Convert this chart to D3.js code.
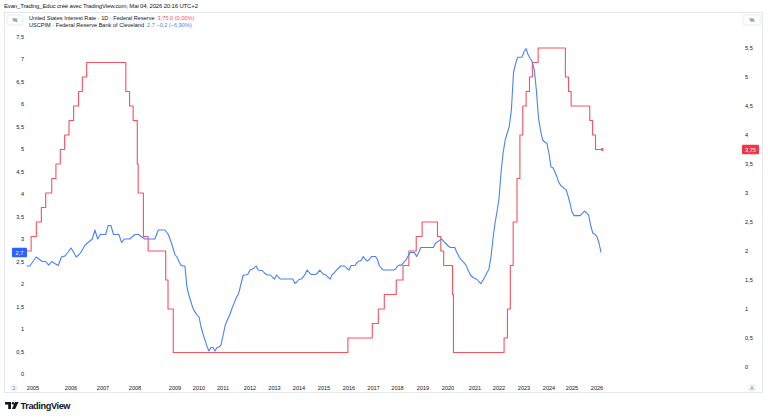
<!DOCTYPE html>
<html>
<head>
<meta charset="utf-8">
<script src="https://cdn.jsdelivr.net/npm/d3@7"></script>
<style>
  html, body { margin: 0; padding: 0; background: #fff; }
  svg { display: block; font-family: "Liberation Sans", Arial, sans-serif; }
</style>
</head>
<body>
<svg id="chart" width="768" height="419"></svg>
<script>
// ---- data ----
const years = d3.range(2005, 2027); // x tick labels

// USCPIM (median CPI, % y/y), monthly from Nov 2004
const cpiStart = "2004-11";
const cpiValues = [
  2.4, 2.4,
  2.5, 2.6, 2.55, 2.5, 2.5, 2.42, 2.5, 2.45, 2.41, 2.6, 2.62, 2.7,
  2.8, 2.7, 2.6, 2.65, 2.72, 2.84, 2.9, 2.95, 3.0, 3.2, 3.0, 3.1,
  3.1, 3.1, 3.3, 3.3, 3.1, 3.1, 3.1, 2.92, 3.0, 3.0, 3.0, 3.05,
  3.1, 3.1, 3.05, 3.0, 3.0, 3.0, 3.0, 3.2, 3.2, 3.2, 3.1, 2.9,
  2.65, 2.6, 2.5, 2.42, 2.4, 2.4, 1.94, 1.75, 1.6, 1.46, 1.38, 1.31,
  1.27, 1.05, 0.9, 0.76, 0.62, 0.51, 0.59, 0.59, 0.51, 0.59, 0.6, 0.64,
  0.85, 1.09, 1.2, 1.31, 1.45, 1.58, 1.7, 1.79, 2.0, 2.2, 2.2, 2.21,
  2.31, 2.33, 2.35, 2.4, 2.31, 2.3, 2.3, 2.25, 2.21, 2.2, 2.2, 2.15,
  2.11, 2.2, 2.15, 2.11, 2.11, 2.11, 2.11, 2.11, 2.11, 2.11, 2.01, 2.05,
  2.1, 2.11, 2.15, 2.22, 2.31, 2.25, 2.21, 2.21, 2.21, 2.25, 2.31, 2.25,
  2.21, 2.2, 2.15, 2.11, 2.21, 2.25, 2.31, 2.35, 2.4, 2.4, 2.4, 2.35,
  2.31, 2.41, 2.41, 2.41, 2.48, 2.51, 2.52, 2.61, 2.55, 2.51, 2.55, 2.61,
  2.61, 2.61, 2.55, 2.4, 2.35, 2.31, 2.31, 2.31, 2.31, 2.31, 2.31, 2.33,
  2.4, 2.42, 2.42, 2.48, 2.53, 2.62, 2.7, 2.7, 2.7, 2.61, 2.7, 2.81,
  2.81, 2.81, 2.81, 2.81, 2.81, 2.81, 2.9, 2.94, 2.97, 3.0, 2.94, 2.9,
  2.85, 2.81, 2.81, 2.81, 2.7, 2.6, 2.53, 2.48, 2.42, 2.3, 2.2, 2.15,
  2.12, 2.1, 2.05, 2.01, 2.08, 2.16, 2.25, 2.33, 2.6, 3.0, 3.35, 3.6,
  3.9, 4.5, 4.9, 5.2, 5.35, 5.51, 5.87, 6.7, 6.9, 7.04, 7.04, 7.04,
  7.16, 7.23, 7.1, 7.01, 6.94, 6.76, 6.3, 5.68, 5.4, 5.2, 5.15, 5.13,
  4.9, 4.6, 4.59, 4.5, 4.4, 4.27, 4.2, 4.16, 4.12, 4.09, 3.95, 3.79,
  3.6, 3.52, 3.52, 3.52, 3.52, 3.57, 3.62, 3.58, 3.53, 3.3, 3.13, 3.11,
  3.05, 2.9, 2.7
];

// United States interest rate, value in force from each date
const rateDates = [
  "2004-11-01", "2004-12-14", "2005-02-02", "2005-03-22", "2005-05-03", "2005-06-30",
  "2005-08-09", "2005-09-20", "2005-11-01", "2005-12-13", "2006-01-31", "2006-03-28",
  "2006-05-10", "2006-06-29", "2007-09-18", "2007-10-31", "2007-12-11", "2008-01-22",
  "2008-01-30", "2008-03-18", "2008-04-30", "2008-10-08", "2008-10-29", "2008-12-16",
  "2015-12-16", "2016-12-14", "2017-03-15", "2017-06-14", "2017-12-13", "2018-03-21",
  "2018-06-13", "2018-09-26", "2018-12-19", "2019-07-31", "2019-09-18", "2019-10-30",
  "2020-03-03", "2020-03-15", "2022-03-16", "2022-05-04", "2022-06-15", "2022-07-27",
  "2022-09-21", "2022-11-02", "2022-12-14", "2023-02-01", "2023-03-22", "2023-05-03",
  "2023-07-26", "2024-09-18", "2024-11-07", "2024-12-18", "2025-09-17", "2025-10-29",
  "2025-12-10", "2026-03-18"
];
const rateValues = [
  2.0, 2.25, 2.5, 2.75, 3.0, 3.25,
  3.5, 3.75, 4.0, 4.25, 4.5, 4.75,
  5.0, 5.25, 4.75, 4.5, 4.25, 3.5,
  3.0, 2.25, 2.0, 1.5, 1.0, 0.25,
  0.5, 0.75, 1.0, 1.25, 1.5, 1.75,
  2.0, 2.25, 2.5, 2.25, 2.0, 1.75,
  1.25, 0.25, 0.5, 1.0, 1.75, 2.5,
  3.25, 4.0, 4.5, 4.75, 5.0, 5.25,
  5.5, 5.0, 4.75, 4.5, 4.25, 4.0,
  3.75, 3.75
];

const leftTicks = d3.range(0, 7.51, 0.5);
const rightTicks = d3.range(0, 5.51, 0.5);

// ---- layout ----
const W = 768, H = 419;
const RED = "#f7525f", BLUE = "#4a82f5";
const TXT = "#131722", GRID = "#e0e3eb";

// TradingView spaces bars, not time, so year ticks are uneven
const yearTickX = [33, 71, 103, 135, 175, 199, 223, 250, 274.5, 299, 324, 349,
                   373.5, 397.5, 423, 448, 475, 499, 524, 549, 572, 597];

const x = d3.scaleTime()
  .domain(years.map(y => new Date(y, 0, 1)))
  .range(yearTickX);
const yL = d3.scaleLinear().domain([0, 7.5]).range([374, 36.5]);
const yR = d3.scaleLinear().domain([0, 5.5]).range([367, 48]);

const fr = d3.formatLocale({decimal: ",", thousands: " ", grouping: [3], currency: ["", ""]});
const fmt = fr.format("~g");

const parseMonth = d3.timeParse("%Y-%m");
const parseDay = d3.timeParse("%Y-%m-%d");
const cpi = cpiValues.map((v, i) => ({date: d3.timeMonth.offset(parseMonth(cpiStart), i), v}));
const rate = rateValues.map((v, i) => ({date: parseDay(rateDates[i]), v}));

const svg = d3.select("#chart");

// header line
svg.append("text")
  .attr("x", 4).attr("y", 8)
  .attr("font-size", 6).attr("fill", TXT)
  .attr("textLength", 194)
  .text("Evan_Trading_Educ créé avec TradingView.com, Mai 04, 2026 20:16 UTC+2");

// pane frame
svg.append("rect")
  .attr("x", 4.5).attr("y", 12.5).attr("width", 758).attr("height", 380)
  .attr("fill", "none").attr("stroke", GRID).attr("stroke-width", 0.8);

// "%" buttons
[[7, 15, 16], [743, 15, 18]].forEach(([bx, by, bw]) => {
  svg.append("rect")
    .attr("x", bx).attr("y", by).attr("width", bw).attr("height", 10).attr("rx", 2)
    .attr("fill", "#fff").attr("stroke", GRID).attr("stroke-width", 0.7);
  svg.append("text")
    .attr("x", bx + bw / 2).attr("y", by + 7.2)
    .attr("text-anchor", "middle").attr("font-size", 5.5).attr("fill", TXT)
    .text("%");
});

// legend
const leg = svg.append("g").attr("font-size", 5.6);
const l1 = leg.append("text").attr("x", 29).attr("y", 19.5).attr("fill", TXT);
l1.append("tspan").text("United States Interest Rate · 1D · Federal Reserve");
l1.append("tspan").attr("fill", RED).attr("dx", 3).text("3,75  0 (0,00%)");
const l2 = leg.append("text").attr("x", 29).attr("y", 27).attr("fill", TXT);
l2.append("tspan").text("USCPIM · Federal Reserve Bank of Cleveland");
l2.append("tspan").attr("fill", BLUE).attr("dx", 3).text("2.7  −0,2 (−6,90%)");

// left axis labels (CPI)
svg.append("g").selectAll("text").data(leftTicks).join("text")
  .attr("x", 24).attr("y", d => yL(d) + 2)
  .attr("text-anchor", "end").attr("font-size", 5.6).attr("fill", TXT)
  .text(d => fmt(d));

// right axis labels (rate)
svg.append("g").selectAll("text").data(rightTicks).join("text")
  .attr("x", 745).attr("y", d => yR(d) + 2)
  .attr("font-size", 5.6).attr("fill", TXT)
  .text(d => fmt(d));

// year labels
svg.append("g").selectAll("text").data(years).join("text")
  .attr("x", d => x(new Date(d, 0, 1)))
  .attr("y", 390)
  .attr("text-anchor", "middle").attr("font-size", 5.6).attr("fill", TXT)
  .text(d => d);

// small round buttons in the bottom corners
[[14, "2"], [752, "A"]].forEach(([cx, t]) => {
  svg.append("circle").attr("cx", cx).attr("cy", 388).attr("r", 4).attr("fill", "#f0f3fa");
  svg.append("text").attr("x", cx).attr("y", 390)
    .attr("text-anchor", "middle").attr("font-size", 5).attr("fill", "#787b86").text(t);
});

// series
const cpiLine = d3.line().x(d => x(d.date)).y(d => yL(d.v));
const rateLine = d3.line().x(d => x(d.date)).y(d => yR(d.v)).curve(d3.curveStepAfter);

svg.append("path").datum(rate)
  .attr("d", rateLine).attr("fill", "none")
  .attr("stroke", RED).attr("stroke-width", 1.1).attr("stroke-linejoin", "round");
svg.append("path").datum(cpi)
  .attr("d", cpiLine).attr("fill", "none")
  .attr("stroke", BLUE).attr("stroke-width", 1.1).attr("stroke-linejoin", "round");

const lastRate = rate[rate.length - 1];
svg.append("circle")
  .attr("cx", x(lastRate.date)).attr("cy", yR(lastRate.v)).attr("r", 1.4).attr("fill", RED);

// last value badges
const lastCpi = cpi[cpi.length - 1];
svg.append("rect")
  .attr("x", 12).attr("y", yL(lastCpi.v) - 4.8).attr("width", 15).attr("height", 9.5).attr("rx", 1)
  .attr("fill", "#2962ff");
svg.append("text")
  .attr("x", 19.5).attr("y", yL(lastCpi.v) + 2)
  .attr("text-anchor", "middle").attr("font-size", 5.6).attr("fill", "#fff")
  .text(fmt(lastCpi.v));

svg.append("rect")
  .attr("x", 742).attr("y", yR(lastRate.v) - 4.8).attr("width", 17).attr("height", 9.5).attr("rx", 1)
  .attr("fill", "#f23645");
svg.append("text")
  .attr("x", 750.5).attr("y", yR(lastRate.v) + 2)
  .attr("text-anchor", "middle").attr("font-size", 5.6).attr("fill", "#fff")
  .text(fmt(lastRate.v));

// TradingView logo
const logo = svg.append("g").attr("fill", TXT);
logo.append("rect").attr("x", 5).attr("y", 402).attr("width", 6).attr("height", 2.6);
logo.append("rect").attr("x", 8.2).attr("y", 402).attr("width", 2.8).attr("height", 7);
logo.append("circle").attr("cx", 13.2).attr("cy", 403.3).attr("r", 1.35);
logo.append("path").attr("d", "M15.2,402 L18.6,402 L15.2,409 L11.9,409 Z");
logo.append("text")
  .attr("x", 20.5).attr("y", 409).attr("font-size", 9.2).attr("font-weight", 600)
  .attr("textLength", 50)
  .text("TradingView");
</script>
</body>
</html>
